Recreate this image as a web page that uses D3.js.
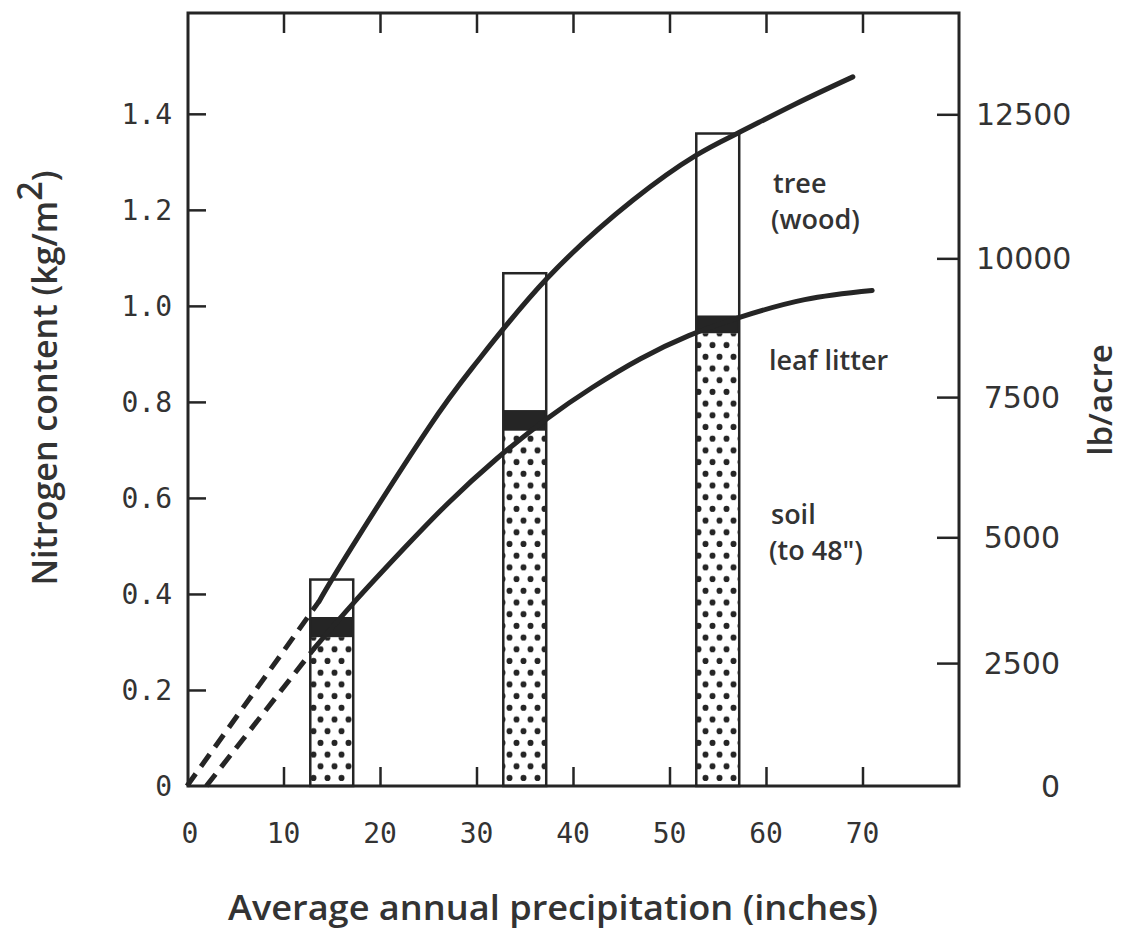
<!DOCTYPE html>
<html>
<head>
<meta charset="utf-8">
<script src="https://cdn.jsdelivr.net/npm/d3@7"></script>
<style>
  body { margin: 0; background: #fff; }
  svg { display: block; }
</style>
</head>
<body>
<div id="chart"></div>
<script>
// axis ticks
var precipTicks = [0, 10, 20, 30, 40, 50, 60, 70];
var kgTicks = [0, 0.2, 0.4, 0.6, 0.8, 1.0, 1.2, 1.4];
var lbTicks = [0, 2500, 5000, 7500, 10000, 12500];
// where each lb/acre tick sits on the kg/m2 axis, as drawn in the figure
var lbTickKg = [0, 0.256, 0.518, 0.81, 1.099, 1.399];

// bars: precipitation (inches) and nitrogen (kg/m2) per compartment
var barPrecip = [15, 35, 55];
var soilN = [0.31, 0.74, 0.943];
var litterN = [0.042, 0.043, 0.037];
var woodN = [0.078, 0.285, 0.379];

// fitted curves (precip, kg/m2)
var treeDashX = [0, 13.7];
var treeDashY = [0, 0.385];
var treeX = [13.7, 17, 25, 30, 37.3, 46.2, 52.7, 57.1, 63, 69];
var treeY = [0.385, 0.495, 0.745, 0.882, 1.057, 1.22, 1.313, 1.36, 1.42, 1.477];
var litterDashX = [2, 13.2];
var litterDashY = [0, 0.287];
var litterX = [13.2, 17.2, 22.5, 27, 32, 37.3, 42, 47, 52, 57.1, 64, 71];
var litterY = [0.287, 0.38, 0.495, 0.588, 0.68, 0.765, 0.83, 0.89, 0.938, 0.975, 1.013, 1.032];

var ink = '#252525',
  textInk = '#333';

var width = 1124,
  height = 949;

var svg = d3.select('#chart').append('svg')
  .attr('width', width)
  .attr('height', height);

var x = d3.scaleLinear().domain([0, 80]).range([187, 959]);
var y = d3.scaleLinear().domain([0, 1.61]).range([786, 13]);
var yLb = d3.scaleLinear().domain(lbTicks).range(lbTickKg.map(y));

// stipple for soil
var pat = svg.append('defs').append('pattern')
  .attr('id', 'dots')
  .attr('patternUnits', 'userSpaceOnUse')
  .attr('x', 2)
  .attr('width', 14)
  .attr('height', 23.4);
pat.append('rect').attr('width', 14).attr('height', 23.4).attr('fill', '#fff');
pat.append('circle').attr('cx', 3.5).attr('cy', 5.8).attr('r', 3).attr('fill', ink);
pat.append('circle').attr('cx', 10.5).attr('cy', 17.5).attr('r', 3).attr('fill', ink);

// bars
var barW = 4.45;
var bars = svg.append('g').selectAll('g')
  .data(barPrecip)
  .enter().append('g');

bars.append('rect')
  .attr('x', function(d) { return x(d - barW / 2); })
  .attr('width', function(d) { return x(d + barW / 2) - x(d - barW / 2); })
  .attr('y', function(d, i) { return y(soilN[i]); })
  .attr('height', function(d, i) { return y(0) - y(soilN[i]); })
  .attr('fill', 'url(#dots)');

bars.append('rect')
  .attr('x', function(d) { return x(d - barW / 2); })
  .attr('width', function(d) { return x(d + barW / 2) - x(d - barW / 2); })
  .attr('y', function(d, i) { return y(soilN[i] + litterN[i]); })
  .attr('height', function(d, i) { return y(soilN[i]) - y(soilN[i] + litterN[i]); })
  .attr('fill', ink);

bars.append('rect')
  .attr('x', function(d) { return x(d - barW / 2); })
  .attr('width', function(d) { return x(d + barW / 2) - x(d - barW / 2); })
  .attr('y', function(d, i) { return y(soilN[i] + litterN[i] + woodN[i]); })
  .attr('height', function(d, i) { return y(0) - y(soilN[i] + litterN[i] + woodN[i]); })
  .attr('fill', 'none')
  .attr('stroke', ink)
  .attr('stroke-width', 2.5);

// curves
var line = d3.line()
  .x(function(d) { return x(d[0]); })
  .y(function(d) { return y(d[1]); })
  .curve(d3.curveNatural);

function pairs(xs, ys) { return xs.map(function(v, i) { return [v, ys[i]]; }); }

var curves = svg.append('g')
  .attr('fill', 'none')
  .attr('stroke', ink)
  .attr('stroke-width', 5);

curves.append('path').attr('d', line(pairs(treeX, treeY))).attr('stroke-linecap', 'round');
curves.append('path').attr('d', line(pairs(litterX, litterY))).attr('stroke-linecap', 'round');
curves.append('path').attr('d', line(pairs(treeDashX, treeDashY))).attr('stroke-dasharray', '15,9');
curves.append('path').attr('d', line(pairs(litterDashX, litterDashY))).attr('stroke-dasharray', '15,9');

// axes (inward ticks)
function styleAxis(g) {
  g.select('.domain').remove();
  g.selectAll('.tick line').attr('stroke', ink).attr('stroke-width', 2.5);
}
var innerX = precipTicks.slice(1);
svg.append('g').attr('transform', 'translate(0,786)')
  .call(d3.axisBottom(x).tickValues(innerX).tickSize(-19).tickFormat(''))
  .call(styleAxis);
svg.append('g').attr('transform', 'translate(0,13)')
  .call(d3.axisTop(x).tickValues(innerX).tickSize(-20).tickFormat(''))
  .call(styleAxis);
svg.append('g').attr('transform', 'translate(188,0)')
  .call(d3.axisLeft(y).tickValues(kgTicks.slice(1)).tickSize(-18).tickFormat(''))
  .call(styleAxis);
svg.append('g').attr('transform', 'translate(959,0)')
  .call(d3.axisRight(yLb).tickValues(lbTicks.slice(1)).tickSize(-22).tickFormat(''))
  .call(styleAxis);

// frame
svg.append('rect')
  .attr('x', 188).attr('y', 13)
  .attr('width', 771).attr('height', 773)
  .attr('fill', 'none')
  .attr('stroke', ink)
  .attr('stroke-width', 3);

// tick labels
svg.append('g').selectAll('text')
  .data(precipTicks)
  .enter().append('text')
  .attr('x', function(d) { return x(d) + (d === 0 ? 3 : 0); })
  .attr('y', 843)
  .attr('text-anchor', 'middle')
  .style('font-family', '"DejaVu Sans Mono", monospace')
  .style('font-size', '28px')
  .style('fill', textInk)
  .text(function(d) { return d; });

svg.append('g').selectAll('text')
  .data(kgTicks)
  .enter().append('text')
  .attr('x', 172)
  .attr('y', function(d) { return y(d); })
  .attr('dy', '0.36em')
  .attr('text-anchor', 'end')
  .style('font-family', '"DejaVu Sans Mono", monospace')
  .style('font-size', '28px')
  .style('fill', textInk)
  .text(function(d) { return d === 0 ? '0' : d3.format('.1f')(d); });

svg.append('g').selectAll('text')
  .data(lbTicks)
  .enter().append('text')
  .attr('x', function(d) { return d >= 10000 ? 976 : 1060; })
  .attr('y', function(d) { return yLb(d); })
  .attr('dy', '0.36em')
  .attr('text-anchor', function(d) { return d >= 10000 ? 'start' : 'end'; })
  .style('font-family', '"DejaVu Sans", sans-serif')
  .style('font-size', '30px')
  .style('fill', textInk)
  .text(function(d) { return d; });

// axis titles
var titleFont = '"Open Sans", sans-serif';
svg.append('text')
  .attr('x', 553)
  .attr('y', 920)
  .attr('text-anchor', 'middle')
  .attr('textLength', 650)
  .attr('lengthAdjust', 'spacingAndGlyphs')
  .style('font-family', titleFont)
  .style('font-size', '34px')
  .style('font-weight', 600)
  .style('fill', textInk)
  .text('Average annual precipitation (inches)');

var yt = svg.append('text')
  .attr('transform', 'translate(57,378) rotate(-90)')
  .attr('text-anchor', 'middle')
  .style('font-family', titleFont)
  .style('font-size', '34px')
  .style('font-weight', 600)
  .style('fill', textInk);
yt.append('tspan').text('Nitrogen content (kg/m');
yt.append('tspan').attr('dy', -15).text('2');
yt.append('tspan').attr('dy', 15).text(')');

svg.append('text')
  .attr('transform', 'translate(1112,400) rotate(-90)')
  .attr('text-anchor', 'middle')
  .style('font-family', titleFont)
  .style('font-size', '33px')
  .style('font-weight', 600)
  .style('fill', textInk)
  .text('lb/acre');

// compartment labels
var notes = [
  { t: 'tree', x: 773, y: 193 },
  { t: '(wood)', x: 771, y: 229 },
  { t: 'leaf litter', x: 769, y: 370 },
  { t: 'soil', x: 771, y: 524 },
  { t: '(to 48")', x: 769, y: 560 }
];
svg.append('g').selectAll('text')
  .data(notes)
  .enter().append('text')
  .attr('x', function(d) { return d.x; })
  .attr('y', function(d) { return d.y; })
  .style('font-family', titleFont)
  .style('font-size', '27px')
  .style('font-weight', 600)
  .style('fill', textInk)
  .text(function(d) { return d.t; });
</script>
</body>
</html>
